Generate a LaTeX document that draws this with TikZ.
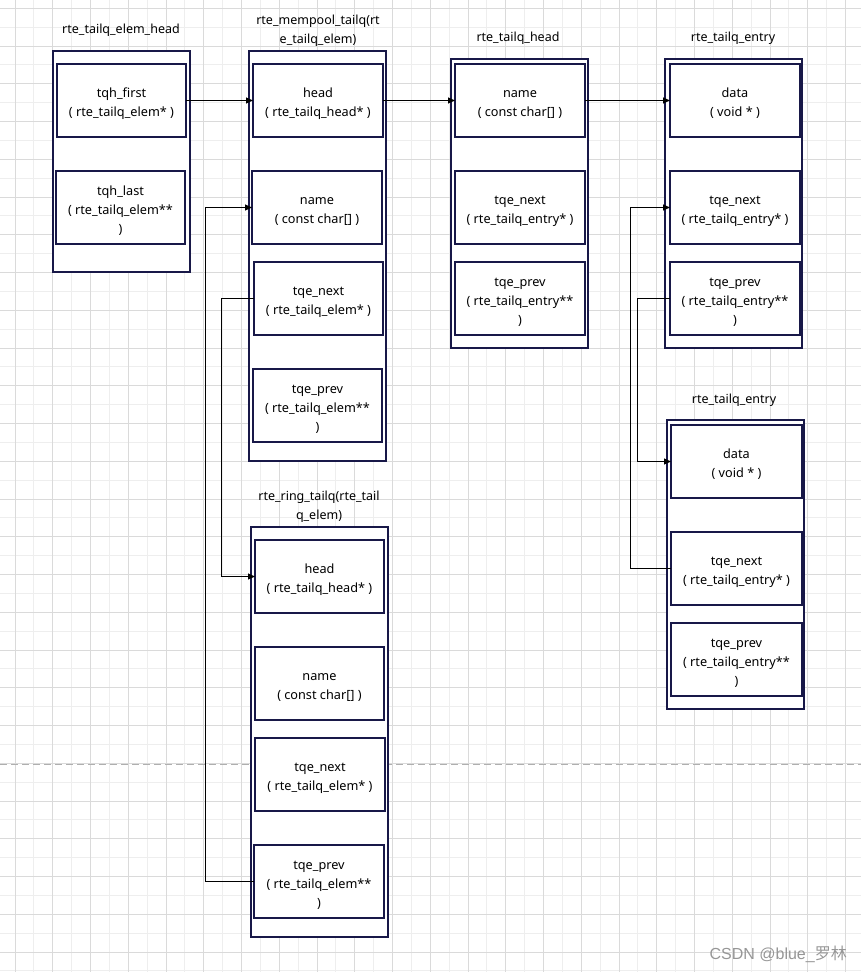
\documentclass[tikz,border=0pt]{standalone}
\usepackage{fontspec}
\setmainfont{Noto Sans}
\newfontfamily\wmfont{Liberation Sans}
\newfontfamily\cjkfont{Noto Sans CJK SC}
\usetikzlibrary{arrows.meta}
\definecolor{boxline}{RGB}{24,24,72}
\definecolor{gridA}{RGB}{218,218,218}
\definecolor{gridB}{RGB}{238,238,238}
\definecolor{dashgray}{RGB}{175,175,175}
\definecolor{wmgray}{RGB}{150,150,150}
\tikzset{
  field/.style={draw=boxline, line width=1.1pt, fill=white, inner sep=0pt, outer sep=0pt,
    align=center, font=\fontsize{12.7}{19}\selectfont},
  outerbox/.style={draw=boxline, line width=1.1pt, fill=white, inner sep=0pt, outer sep=0pt},
  title/.style={align=center, font=\fontsize{12.5}{18.5}\selectfont, inner sep=0pt},
  conn/.style={draw=black, line width=1pt, -{Triangle[length=7pt,width=6pt]}},
  gridmajor/.style={draw=gridA, line width=1pt},
  gridminor/.style={draw=gridB, line width=1pt},
}
\newcommand\mybox[7]{%
  \node[#1, minimum width={#5-#3}, minimum height={#6-#4}] (#2) at ({(#3+#5)/2},{(#4+#6)/2}) {#7};}
\newcommand\lowstrut{\rule{0pt}{15.5pt}}
\begin{document}
\begin{tikzpicture}[x=1pt, y=-1pt]
\useasboundingbox (0,0) rectangle (861,972);
\fill[white] (0,0) rectangle (861,972);
% grid
\foreach \i in {0,...,22} {\draw[gridminor] ({33.875+37.75*\i},0) -- ++(0,972);}
\foreach \i in {0,...,25} {\draw[gridminor] (0,{27.2+37.75*\i}) -- ++(861,0);}
\foreach \i in {0,...,22} {\draw[gridmajor] ({15+37.75*\i},0) -- ++(0,972);}
\foreach \i in {0,...,25} {\draw[gridmajor] (0,{8.3+37.75*\i}) -- ++(861,0);}
% dashed separator
\draw[dashgray, line width=1pt, dash pattern=on 7pt off 4pt] (0,764) -- (861,764);

% titles
\node[title] (t1) at (121,30) {rte\_tailq\_elem\_head};
\node[title] (t2) at (318,30.5) {rte\_mempool\_tailq(rt\\e\_tailq\_elem)};
\node[title] (t3) at (518,38) {rte\_tailq\_head};
\node[title] (t4) at (733,38) {rte\_tailq\_entry};
\node[title] (t5) at (319,506.5) {rte\_ring\_tailq(rte\_tail\\q\_elem)};
\node[title] (t6) at (734,400) {rte\_tailq\_entry};

% outer boxes
\mybox{outerbox}{o1}{53}{51}{190}{272}{}
\mybox{outerbox}{o2}{249}{51}{386}{461}{}
\mybox{outerbox}{o3}{251}{527}{388}{937}{}
\mybox{outerbox}{o4}{451}{59}{588}{348}{}
\mybox{outerbox}{o5}{665}{59}{802}{348}{}
\mybox{outerbox}{o6}{667}{420}{804}{709}{}

% rte_tailq_elem_head
\mybox{field}{f1}{57}{64}{186}{137}{\lowstrut tqh\_first\\( rte\_tailq\_elem* )}
\mybox{field}{f2}{56}{171}{185}{244}{\lowstrut tqh\_last\\( rte\_tailq\_elem**\\)}
% rte_mempool_tailq
\mybox{field}{m1}{253}{64}{383}{137}{\lowstrut head\\( rte\_tailq\_head* )}
\mybox{field}{m2}{252}{171}{382}{244}{\lowstrut name\\( const char[] )}
\mybox{field}{m3}{254}{262}{383}{335}{\lowstrut tqe\_next\\( rte\_tailq\_elem* )}
\mybox{field}{m4}{253}{369}{382}{442}{\lowstrut tqe\_prev\\( rte\_tailq\_elem**\\)}
% rte_ring_tailq
\mybox{field}{r1}{255}{540}{384}{613}{\lowstrut head\\( rte\_tailq\_head* )}
\mybox{field}{r2}{255}{647}{384}{720}{\lowstrut name\\( const char[] )}
\mybox{field}{r3}{255}{738}{385}{811}{\lowstrut tqe\_next\\( rte\_tailq\_elem* )}
\mybox{field}{r4}{254}{845}{384}{918}{\lowstrut tqe\_prev\\( rte\_tailq\_elem**\\)}
% rte_tailq_head
\mybox{field}{h1}{455}{64}{585}{137}{\lowstrut name\\( const char[] )}
\mybox{field}{h2}{455}{171}{585}{244}{\lowstrut tqe\_next\\( rte\_tailq\_entry* )}
\mybox{field}{h3}{455}{262}{585}{335}{\lowstrut tqe\_prev\\( rte\_tailq\_entry**\\)}
% rte_tailq_entry (top)
\mybox{field}{e1}{670}{64}{800}{137}{\lowstrut data\\( void * )}
\mybox{field}{e2}{670}{171}{800}{244}{\lowstrut tqe\_next\\( rte\_tailq\_entry* )}
\mybox{field}{e3}{670}{262}{800}{335}{\lowstrut tqe\_prev\\( rte\_tailq\_entry**\\)}
% rte_tailq_entry (bottom)
\mybox{field}{g1}{671}{425}{802}{498}{\lowstrut data\\( void * )}
\mybox{field}{g2}{671}{532}{802}{605}{\lowstrut tqe\_next\\( rte\_tailq\_entry* )}
\mybox{field}{g3}{671}{623}{802}{696}{\lowstrut tqe\_prev\\( rte\_tailq\_entry**\\)}

% bus coordinates
\coordinate (busA) at (205,0);
\coordinate (busB) at (221,0);
\coordinate (busC) at (630,0);
\coordinate (busD) at (637,0);

% connectors
\draw[conn] (f1.east) -- (m1.west);
\draw[conn] (m1.east) -- (h1.west);
\draw[conn] (h1.east) -- (e1.west);
\draw[conn] (r4.west) -- (r4.west -| busA) -- (m2.west -| busA) -- (m2.west);
\draw[conn] (m3.west) -- (m3.west -| busB) -- (r1.west -| busB) -- (r1.west);
\draw[conn] (e3.west) -- (e3.west -| busD) -- (g1.west -| busD) -- (g1.west);
\draw[conn] (g2.west) -- (g2.west -| busC) -- (e2.west -| busC) -- (e2.west);

% watermark
\node[anchor=east, inner sep=0pt, text=wmgray, font=\wmfont\fontsize{16}{16}\selectfont] (wm) at (847,954) {CSDN @blue\_{\cjkfont 罗林}};
\end{tikzpicture}
\end{document}
